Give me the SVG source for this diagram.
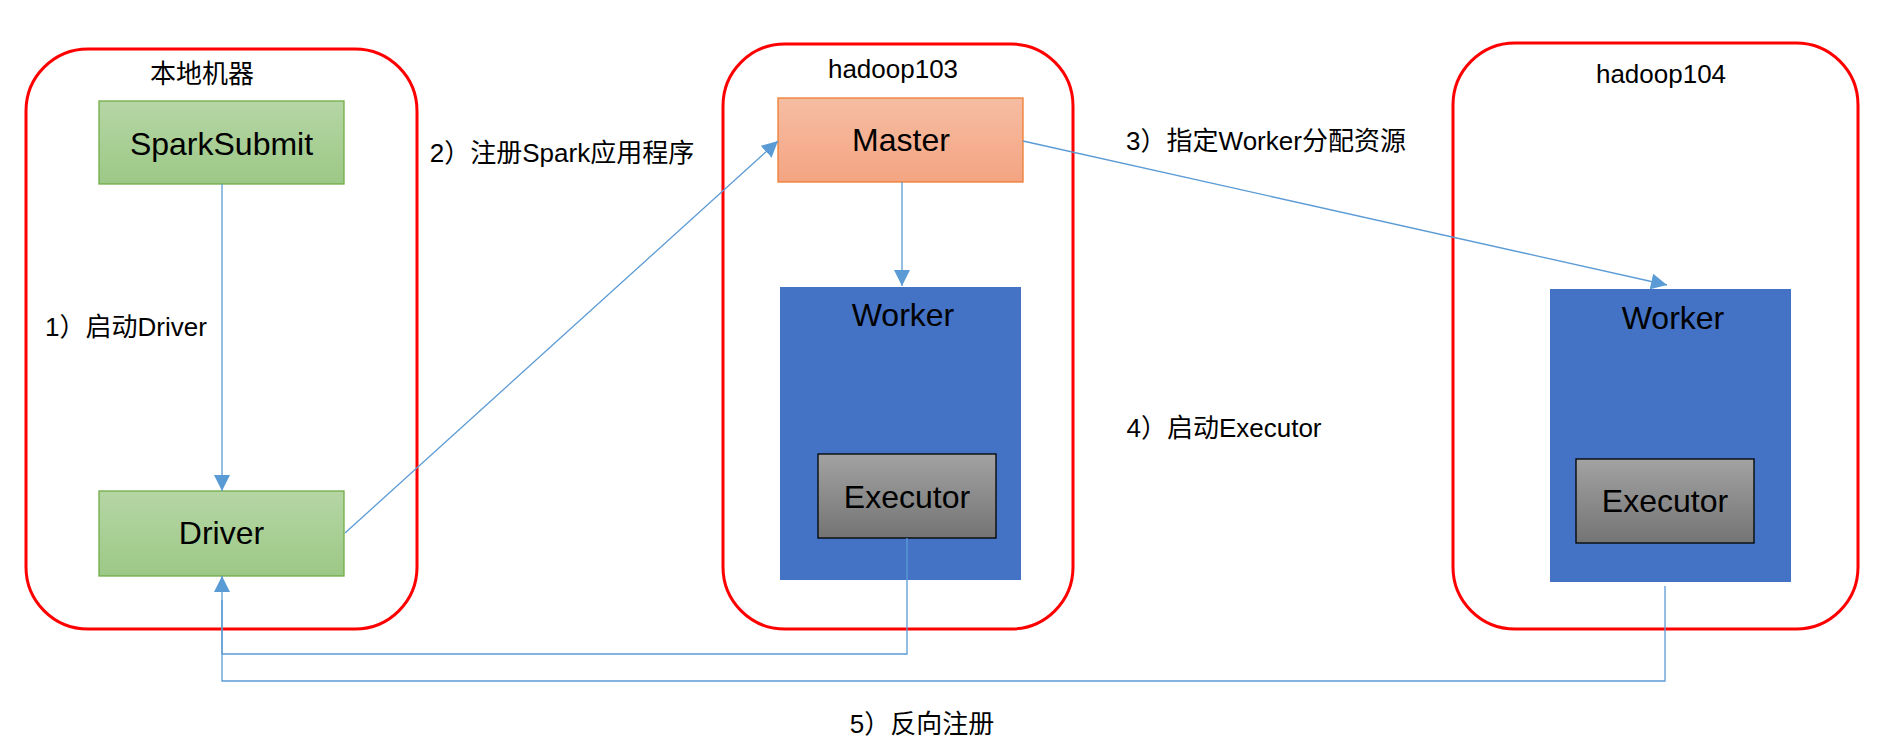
<svg xmlns="http://www.w3.org/2000/svg" width="1880" height="753" viewBox="0 0 1880 753">
<defs>
<linearGradient id="gGreen" x1="0" y1="0" x2="0" y2="1"><stop offset="0" stop-color="#B6D6A5"/><stop offset="1" stop-color="#9CC886"/></linearGradient>
<linearGradient id="gOrange" x1="0" y1="0" x2="0" y2="1"><stop offset="0" stop-color="#F6BDA2"/><stop offset="1" stop-color="#F4A482"/></linearGradient>
<linearGradient id="gGray" x1="0" y1="0" x2="0" y2="1"><stop offset="0" stop-color="#A2A2A2"/><stop offset="1" stop-color="#747474"/></linearGradient>
<marker id="arr" markerUnits="userSpaceOnUse" markerWidth="16" markerHeight="16" viewBox="0 0 16 16" refX="16" refY="8" orient="auto">
<path d="M0,0 L16,8 L0,16 Z" fill="#5B9BD5"/>
</marker>
<style>
.cont{fill:#FFFFFF;stroke:#FF0000;stroke-width:3}
.green{fill:url(#gGreen);stroke:#70AD47;stroke-width:1.3}
.orange{fill:url(#gOrange);stroke:#ED7D31;stroke-width:1.3}
.worker{fill:#4472C4}
.exec{fill:url(#gGray);stroke:#000000;stroke-width:1.3}
.t{font-family:"Liberation Sans","Noto Sans CJK SC",sans-serif;fill:#000000}
.lbl{font-size:26px}
.node{font-size:32px;text-anchor:middle}
.mid{text-anchor:middle}
.conn{fill:none;stroke:#5B9BD5;stroke-width:1.3}
</style>
</defs>
<g id="local-machine">
<rect class="cont" x="26" y="49" width="391" height="580" rx="62" ry="62"/>
<text class="t lbl mid" x="202" y="83">本地机器</text>
</g>
<g id="hadoop103">
<rect class="cont" x="723" y="44" width="350" height="585" rx="62" ry="62"/>
<text class="t lbl mid" x="893" y="78">hadoop103</text>
</g>
<g id="hadoop104">
<rect class="cont" x="1453" y="43" width="405" height="586" rx="62" ry="62"/>
<text class="t lbl mid" x="1661" y="83">hadoop104</text>
</g>
<g id="spark-submit">
<rect class="green" x="99" y="101" width="245" height="83"/>
<text class="t node" x="221.5" y="155">SparkSubmit</text>
</g>
<g id="driver">
<rect class="green" x="99" y="491" width="245" height="85"/>
<text class="t node" x="221.5" y="544">Driver</text>
</g>
<g id="master">
<rect class="orange" x="778" y="98" width="245" height="84"/>
<text class="t node" x="901" y="151">Master</text>
</g>
<g id="worker-103">
<rect class="worker" x="780" y="287" width="241" height="293"/>
<text class="t node" x="903" y="326">Worker</text>
</g>
<g id="executor-103">
<rect class="exec" x="818" y="454" width="178" height="84"/>
<text class="t node" x="907" y="508">Executor</text>
</g>
<g id="worker-104">
<rect class="worker" x="1550" y="289" width="241" height="293"/>
<text class="t node" x="1673" y="329">Worker</text>
</g>
<g id="executor-104">
<rect class="exec" x="1576" y="459" width="178" height="84"/>
<text class="t node" x="1665" y="512">Executor</text>
</g>
<g id="connectors">
<path class="conn" d="M222,184 L222,491" marker-end="url(#arr)"/>
<path class="conn" d="M345,533 L778,141" marker-end="url(#arr)"/>
<path class="conn" d="M902,182 L902,286" marker-end="url(#arr)"/>
<path class="conn" d="M1023,141 L1667,285" marker-end="url(#arr)"/>
<path class="conn" d="M907,538 L907,654 L222,654 L222,576" marker-end="url(#arr)"/>
<path class="conn" d="M1665,586 L1665,681 L222,681 L222,600"/>
</g>
<g id="labels">
<text class="t lbl" x="45" y="336">1）启动Driver</text>
<text class="t lbl mid" x="562" y="162">2）注册Spark应用程序</text>
<text class="t lbl mid" x="1266" y="150">3）指定Worker分配资源</text>
<text class="t lbl mid" x="1224" y="437">4）启动Executor</text>
<text class="t lbl mid" x="922" y="733">5）反向注册</text>
</g>
</svg>
